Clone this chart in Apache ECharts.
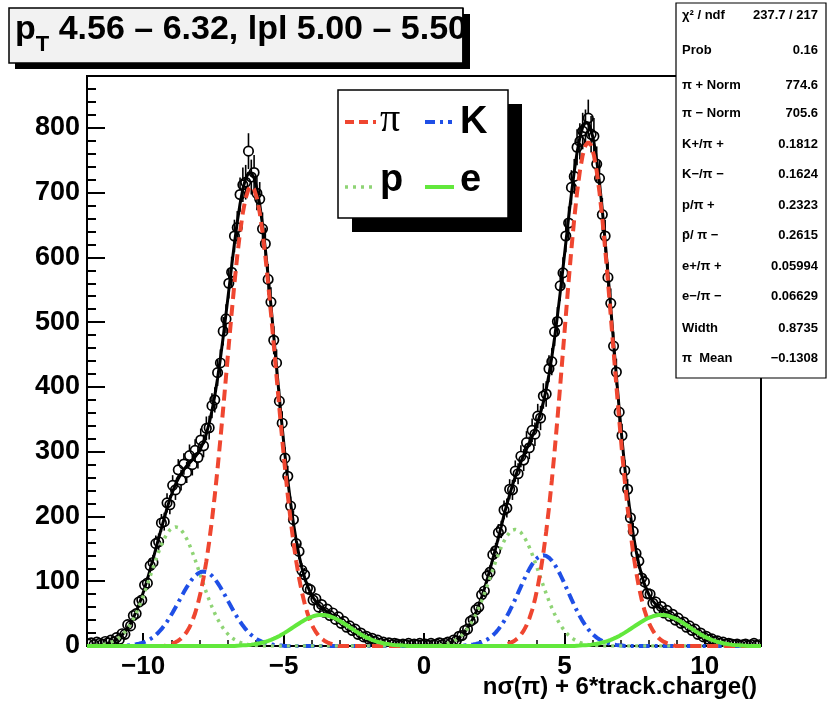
<!DOCTYPE html>
<html><head><meta charset="utf-8">
<script src="https://cdn.jsdelivr.net/npm/echarts@6/dist/echarts.min.js"></script>
<style>html,body{margin:0;padding:0;background:#fff}#c{width:831px;height:704px}</style>
</head><body><div id="c"></div>
<script>
// ---- histogram: bin centres start at -11.95, width 0.1 ----
const binStart = -11.95, binStep = 0.1;
const counts = [
3,5,2,6,4,3,7,5,9,6,
13,10,19,18,33,31,47,50,68,71,
94,97,124,129,158,161,190,192,221,218,
248,241,272,256,281,268,294,280,302,291,
318,309,336,337,371,380,422,437,486,505,
560,577,633,646,697,712,716,764,724,731,
699,690,644,621,566,531,472,437,378,344,
290,262,216,195,158,146,117,110,89,87,
71,73,60,64,52,57,47,51,41,45,
35,38,29,31,24,26,18,20,14,15,
10,12,7,9,4,6,3,5,2,4,
3,1,3,2,4,1,3,2,4,2,
3,1,4,2,3,5,2,4,6,4,
9,8,15,16,24,26,38,41,56,60,
79,85,108,114,141,147,175,180,210,213,
242,241,270,266,293,287,314,306,333,327,
355,352,386,389,428,439,485,501,556,576,
633,653,708,725,770,779,795,800,815,790,
787,744,722,666,633,569,529,463,423,361,
325,271,242,198,177,143,131,105,99,81,
80,66,68,57,61,51,55,46,49,40,
43,35,37,29,31,24,26,18,20,14,
15,10,11,7,8,4,6,3,4,3,
2,3,1,2,3,1,2,4,1,2
];

// ---- fit components (values on the bin grid, starting at the given x) ----
const piMinusStart = -9.15;
const piMinusValues = [1.8,2.8,4.0,5.8,8.2,11.4,15.8,21.6,29.0,38.6,50.6,65.4,83.5,105.2,130.9,160.6,194.5,232.5,274.2,319.3,366.8,415.8,465.2,513.7,559.8,601.9,638.8,669.0,691.5,705.3,710,705.3,691.5,669.0,638.8,601.9,559.8,513.7,465.2,415.8,366.8,319.3,274.2,232.5,194.5,160.6,130.9,105.2,83.5,65.4,50.6,38.6,29.0,21.6,15.8,11.4,8.2,5.8,4.0,2.8,1.8];
const kMinusStart = -10.65;
const kMinusValues = [0.6,0.9,1.3,1.9,2.6,3.5,4.7,6.2,8.2,10.6,13.5,17.0,21.2,26.0,31.5,37.7,44.4,51.7,59.4,67.3,75.3,83.2,90.7,97.5,103.5,108.4,112.0,114.2,115,114.2,112.0,108.4,103.5,97.5,90.7,83.2,75.3,67.3,59.4,51.7,44.4,37.7,31.5,26.0,21.2,17.0,13.5,10.6,8.2,6.2,4.7,3.5,2.6,1.9,1.3,0.9,0.6];
const pbarStart = -11.85;
const pbarValues = [0.5,0.7,1.0,1.5,2.1,3.0,4.1,5.6,7.5,10.0,13.1,16.9,21.6,27.3,33.9,41.6,50.4,60.3,71.1,82.7,95.1,107.8,120.6,133.1,145.1,156.0,165.5,173.4,179.2,182.8,184,182.8,179.2,173.4,165.5,156.0,145.1,133.1,120.6,107.8,95.1,82.7,71.1,60.3,50.4,41.6,33.9,27.3,21.6,16.9,13.1,10.0,7.5,5.6,4.1,3.0,2.1,1.5,1.0,0.7,0.5];
const eMinusStart = -6.65;
const eMinusValues = [0.5,0.7,1.0,1.2,1.6,2.1,2.7,3.4,4.3,5.3,6.5,7.9,9.5,11.3,13.3,15.6,18.0,20.6,23.4,26.2,29.1,32.0,34.8,37.6,40.1,42.4,44.3,45.9,47.0,47.8,48,47.8,47.0,45.9,44.3,42.4,40.1,37.6,34.8,32.0,29.1,26.2,23.4,20.6,18.0,15.6,13.3,11.3,9.5,7.9,6.5,5.3,4.3,3.4,2.7,2.1,1.6,1.2,1.0,0.7,0.5];
const pStart = 0.25;
const pValues = [0.5,0.7,1.0,1.5,2.1,2.9,4.0,5.5,7.4,9.8,12.8,16.6,21.2,26.7,33.2,40.7,49.3,59.0,69.5,80.9,93.0,105.4,117.9,130.2,141.9,152.6,161.9,169.6,175.3,178.8,180,178.8,175.3,169.6,161.9,152.6,141.9,130.2,117.9,105.4,93.0,80.9,69.5,59.0,49.3,40.7,33.2,26.7,21.2,16.6,12.8,9.8,7.4,5.5,4.0,2.9,2.1,1.5,1.0,0.7,0.5];
const kPlusStart = 1.45;
const kPlusValues = [0.8,1.1,1.6,2.3,3.1,4.3,5.7,7.6,10.0,12.9,16.5,20.7,25.8,31.7,38.4,45.9,54.1,63.0,72.3,82.0,91.7,101.3,110.4,118.7,126.0,131.9,136.3,139.1,140,139.1,136.3,131.9,126.0,118.7,110.4,101.3,91.7,82.0,72.3,63.0,54.1,45.9,38.4,31.7,25.8,20.7,16.5,12.9,10.0,7.6,5.7,4.3,3.1,2.3,1.6,1.1,0.8];
const piPlusStart = 2.85;
const piPlusValues = [2.0,3.0,4.4,6.3,8.9,12.5,17.3,23.7,31.8,42.2,55.4,71.7,91.5,115.3,143.4,176.0,213.2,254.8,300.5,349.9,401.9,455.6,509.7,562.9,613.4,659.6,700.0,733.1,757.7,772.9,778,772.9,757.7,733.1,700.0,659.6,613.4,562.9,509.7,455.6,401.9,349.9,300.5,254.8,213.2,176.0,143.4,115.3,91.5,71.7,55.4,42.2,31.8,23.7,17.3,12.5,8.9,6.3,4.4,3.0,2.0];
const ePlusStart = 5.45;
const ePlusValues = [0.5,0.7,1.0,1.2,1.6,2.1,2.7,3.4,4.3,5.3,6.5,7.9,9.5,11.3,13.3,15.6,18.0,20.6,23.4,26.2,29.1,32.0,34.8,37.6,40.1,42.4,44.3,45.9,47.0,47.8,48,47.8,47.0,45.9,44.3,42.4,40.1,37.6,34.8,32.0,29.1,26.2,23.4,20.6,18.0,15.6,13.3,11.3,9.5,7.9,6.5,5.3,4.3,3.4,2.7,2.1,1.6,1.2,1.0,0.7,0.5];

// ---- texts ----
const titleText = ' 4.56 \u2013 6.32, lpl 5.00 \u2013 5.50';
const xAxisTitle = 'n\u03c3(\u03c0) + 6*track.charge()';
const statLabels = ['\u03c7\u00b2 / ndf','Prob','\u03c0 + Norm','\u03c0 \u2212 Norm','K+/\u03c0 +','K\u2212/\u03c0 \u2212','p/\u03c0 +','p\u0304/ \u03c0 \u2212','e+/\u03c0 +','e\u2212/\u03c0 \u2212','Width','\u03c0  Mean'];
const statValues = ['237.7 / 217','0.16','774.6','705.6','0.1812','0.1624','0.2323','0.2615','0.05994','0.06629','0.8735','\u22120.1308'];
const legendNames = ['\u03c0','K','p','e'];

// ---- build series data ----
const xs = counts.map((_, i) => +(binStart + i * binStep).toFixed(2));
function place(start, values) {
  const arr = new Array(xs.length).fill(0);
  const off = Math.round((start - binStart) / binStep);
  values.forEach((v, j) => { if (off + j >= 0 && off + j < arr.length) arr[off + j] += v; });
  return arr;
}
function add(a, b) { return a.map((v, i) => v + b[i]); }
const pion = add(place(piMinusStart, piMinusValues), place(piPlusStart, piPlusValues));
const kaon = add(place(kMinusStart, kMinusValues), place(kPlusStart, kPlusValues));
const proton = add(place(pbarStart, pbarValues), place(pStart, pValues));
const electron = add(place(eMinusStart, eMinusValues), place(ePlusStart, ePlusValues));
const total = pion.map((v, i) => v + kaon[i] + proton[i] + electron[i]);
function curve(arr) {
  const d = xs.map((x, i) => [x, arr[i]]);
  d.unshift([-12, arr[0]]); d.push([12, arr[arr.length - 1]]);
  return d;
}

const FONT = 'Liberation Sans';
const chart = echarts.init(document.getElementById('c'));

const statGraphics = [];
const rowY = [17, 52, 87, 115, 146, 176, 207, 237, 268, 298, 330, 360];
statLabels.forEach((lab, i) => {
  statGraphics.push({type:'text', z:101, left:682, top:rowY[i]-8, style:{text:lab, font:'bold 13px "'+FONT+'"', fill:'#000'}});
  statGraphics.push({type:'text', z:101, right:831-818, top:rowY[i]-8, style:{text:statValues[i], font:'bold 13px "'+FONT+'"', fill:'#000', align:'right'}});
});

const option = {
  animation: false,
  backgroundColor: '#fff',
  grid: {left:87, right:70, top:76, bottom:58, show:true, borderColor:'#000', borderWidth:2, backgroundColor:'#fff'},
  xAxis: [
    {type:'value', min:-12, max:12, splitNumber:5,
     axisLine:{show:true, onZero:false, lineStyle:{color:'#000', width:2}},
     axisTick:{show:true, inside:true, length:13, lineStyle:{color:'#000', width:2}},
     axisLabel:{color:'#000', fontFamily:FONT, fontWeight:'bold', fontSize:26, margin:8,
       formatter: v => (Math.abs(v % 5) < 1e-9 ? (v < 0 ? '\u2212' + (-v) : String(v)) : '')},
     splitLine:{show:false}},
    {type:'value', min:-12, max:12, interval:1, position:'bottom',
     axisLine:{show:false, onZero:false}, axisTick:{show:true, inside:true, length:6, lineStyle:{color:'#000', width:1.5}},
     axisLabel:{show:false}, splitLine:{show:false}}
  ],
  yAxis: [
    {type:'value', min:0, max:880, interval:100, position:'left',
     axisLine:{show:true, onZero:false, lineStyle:{color:'#000', width:2}},
     axisTick:{show:true, inside:true, length:18, lineStyle:{color:'#000', width:2}},
     axisLabel:{color:'#000', fontFamily:FONT, fontWeight:'bold', fontSize:27, margin:7,
       formatter: v => (v % 100 === 0 ? String(v) : '')},
     splitLine:{show:false}},
    {type:'value', min:0, max:880, interval:20, position:'left',
     axisLine:{show:false, onZero:false}, axisTick:{show:true, inside:true, length:9, lineStyle:{color:'#000', width:2}},
     axisLabel:{show:false}, splitLine:{show:false}}
  ],
  series: [
    {type:'custom', name:'data', xAxisIndex:0, yAxisIndex:0, z:2, clip:true,
     data: xs.map((x, i) => [x, counts[i]]),
     renderItem: (params, api) => {
       const x = api.value(0), y = api.value(1), e = Math.sqrt(y);
       const c = api.coord([x, y]), t = api.coord([x, y + e]), b = api.coord([x, Math.max(0, y - e)]);
       const r = 4.7, ch = [];
       if (c[1] - t[1] > r) ch.push({type:'line', shape:{x1:c[0], y1:c[1]-r, x2:c[0], y2:t[1]}, style:{stroke:'#000', lineWidth:1.6}});
       if (b[1] - c[1] > r) ch.push({type:'line', shape:{x1:c[0], y1:c[1]+r, x2:c[0], y2:b[1]}, style:{stroke:'#000', lineWidth:1.6}});
       ch.push({type:'circle', shape:{cx:c[0], cy:c[1], r:r}, style:{fill:'rgba(0,0,0,0)', stroke:'#000', lineWidth:1.7}});
       return {type:'group', children:ch};
     }},
    {type:'line', name:'total', data:curve(total), showSymbol:false, z:3, lineStyle:{color:'#000', width:3}},
    {type:'line', name:'kaon', data:curve(kaon), showSymbol:false, z:4, lineStyle:{color:'#1f4fe6', width:4, type:[11,5,3,5]}},
    {type:'line', name:'proton', data:curve(proton), showSymbol:false, z:4, lineStyle:{color:'#8fd475', width:3.5, type:[3,5]}},
    {type:'line', name:'pion', data:curve(pion), showSymbol:false, z:5, lineStyle:{color:'#ef4630', width:4, type:[11,6]}},
    {type:'line', name:'electron', data:curve(electron), showSymbol:false, z:6, lineStyle:{color:'#62e83c', width:4}}
  ],
  graphic: [
    // title box
    {type:'rect', z:90, shape:{x:15, y:14, width:455, height:55}, style:{fill:'#000'}},
    {type:'rect', z:91, shape:{x:9, y:8, width:454, height:55}, style:{fill:'#f2f2f2', stroke:'#000', lineWidth:1.5}},
    {type:'text', z:92, left:15, top:13, style:{
      text:'{p|p}{s|T}{m|' + titleText + '}',
      rich:{p:{font:'bold 34px "'+FONT+'"', fill:'#000'}, s:{font:'bold 22px "'+FONT+'"', fill:'#000', padding:[30,0,0,0]}, m:{font:'bold 34px "'+FONT+'"', fill:'#000'}}}},
    {type:'rect', z:93, shape:{x:463.8, y:0, width:120, height:72}, style:{fill:'#fff'}},
    {type:'rect', z:94, shape:{x:463, y:14, width:7, height:55}, style:{fill:'#000'}},
    {type:'line', z:94, shape:{x1:463, y1:8, x2:463, y2:63}, style:{stroke:'#000', lineWidth:1.5}},
    // legend
    {type:'rect', z:95, shape:{x:352, y:104, width:170, height:128}, style:{fill:'#000'}},
    {type:'rect', z:96, shape:{x:338, y:90, width:170, height:128}, style:{fill:'#fff', stroke:'#000', lineWidth:1.5}},
    {type:'line', z:97, shape:{x1:345, y1:122, x2:376, y2:122}, style:{stroke:'#ef4630', lineWidth:4, lineDash:[9,5]}},
    {type:'text', z:97, left:380, top:100, style:{text:legendNames[0], font:'40px "Liberation Serif"', fill:'#000'}},
    {type:'line', z:97, shape:{x1:425, y1:122, x2:452, y2:122}, style:{stroke:'#1f4fe6', lineWidth:4, lineDash:[10,5,3,5]}},
    {type:'text', z:97, left:460, top:104, style:{text:legendNames[1], font:'bold 38px "'+FONT+'"', fill:'#000'}},
    {type:'line', z:97, shape:{x1:345, y1:187, x2:376, y2:187}, style:{stroke:'#8fd475', lineWidth:3.5, lineDash:[3,5]}},
    {type:'text', z:97, left:380, top:162, style:{text:legendNames[2], font:'bold 38px "'+FONT+'"', fill:'#000'}},
    {type:'line', z:97, shape:{x1:425, y1:187, x2:454, y2:187}, style:{stroke:'#62e83c', lineWidth:4}},
    {type:'text', z:97, left:460, top:162, style:{text:legendNames[3], font:'bold 38px "'+FONT+'"', fill:'#000'}},
    // stats box
    {type:'rect', z:100, shape:{x:676, y:3, width:150, height:375}, style:{fill:'#fff', stroke:'#000', lineWidth:1.2}},
    ...statGraphics,
    // x axis title
    {type:'text', z:100, right:831-757, top:675, style:{text:xAxisTitle, font:'bold 24px "'+FONT+'"', fill:'#000', align:'right'}}
  ]
};
chart.setOption(option);
</script>
</body></html>
